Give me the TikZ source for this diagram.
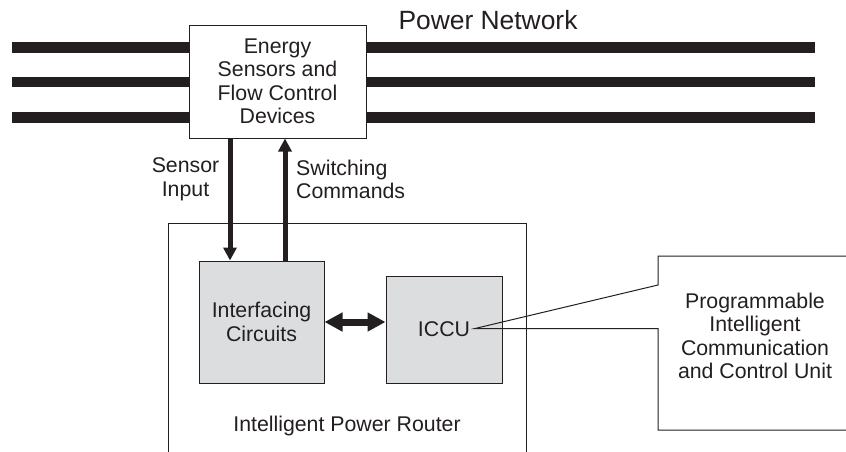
\documentclass[tikz,border=0pt]{standalone}
\usepackage{fontspec}
\setmainfont{Liberation Sans}
\usetikzlibrary{arrows.meta,calc}
\definecolor{ink}{RGB}{35,31,32}
\definecolor{boxgray}{RGB}{220,221,223}
\begin{document}
\begin{tikzpicture}[x=1pt,y=-1pt,
  font=\fontsize{21.3}{23.5}\selectfont, text=ink,
  pline/.style={line width=10.5pt, draw=ink},
  plainbox/.style={draw=ink, line width=1pt, fill=white, align=center, inner sep=0pt},
  graybox/.style={draw=ink, line width=1pt, fill=boxgray, align=center, inner sep=0pt},
  outline/.style={draw=ink, line width=1pt},
  lbl/.style={inner sep=0pt},
  varr/.style={line width=5pt, draw=ink, -{Triangle[length=13pt,width=13pt]}},
  darr/.style={line width=7pt, draw=ink, {Triangle[length=18pt,width=18pt]}-{Triangle[length=18pt,width=18pt]}}
]
\useasboundingbox (0,0) rectangle (846,451);
\fill[white] (0,0) rectangle (846,451);

% Power network box
\node[plainbox, minimum width=177pt, minimum height=113pt] (E) at (277.5,81.5)
  {Energy\\Sensors and\\Flow Control\\Devices};

% power lines
\coordinate (l1) at (12,47.3);  \coordinate (r1) at (815,47.3);
\coordinate (l2) at (12,82);    \coordinate (r2) at (815,82);
\coordinate (l3) at (12,117.5); \coordinate (r3) at (815,117.5);
\draw[pline] (l1) -- (l1 -| E.west);
\draw[pline] (l2) -- (l2 -| E.west);
\draw[pline] (l3) -- (l3 -| E.west);
\draw[pline] (r1 -| E.east) -- (r1);
\draw[pline] (r2 -| E.east) -- (r2);
\draw[pline] (r3 -| E.east) -- (r3);

\node[lbl] (PN) at (488,20) {\fontsize{26.4}{30}\selectfont Power Network};

% router box
\draw[outline] (168,470) -- (168,223) -- (526,223) -- (526,470);
\node[lbl] (IPR) at (347,426) {Intelligent Power Router};

\node[graybox, minimum width=125pt, minimum height=122pt] (IC) at (261.5,322)
  {Interfacing\\Circuits};
\node[graybox, minimum width=116pt, minimum height=107pt] (CU) at (444,329.5) {ICCU};

% labels
\node[lbl, align=center] (SI) at (185.5,179.5) {Sensor\\Input};
\node[lbl, align=left, anchor=west] (SC) at (296,179.5) {Switching\\Commands};

% arrows
\coordinate (sx) at (230,0);
\coordinate (cx) at (285,0);
\draw[varr] (E.south -| sx) -- (IC.north -| sx);
\draw[varr] (IC.north -| cx) -- (E.south -| cx);
\draw[darr] (IC.east) -- (IC.east -| CU.west);

% callout
\coordinate (tip) at (475,328.5);
\draw[outline] (870,256) -- (658,256) -- (658,285) -- (tip) -- (658,328.5) -- (658,430) -- (870,430);
\node[lbl, align=center] (PU) at (755,336)
  {Programmable\\Intelligent\\Communication\\and Control Unit};
\end{tikzpicture}
\end{document}
